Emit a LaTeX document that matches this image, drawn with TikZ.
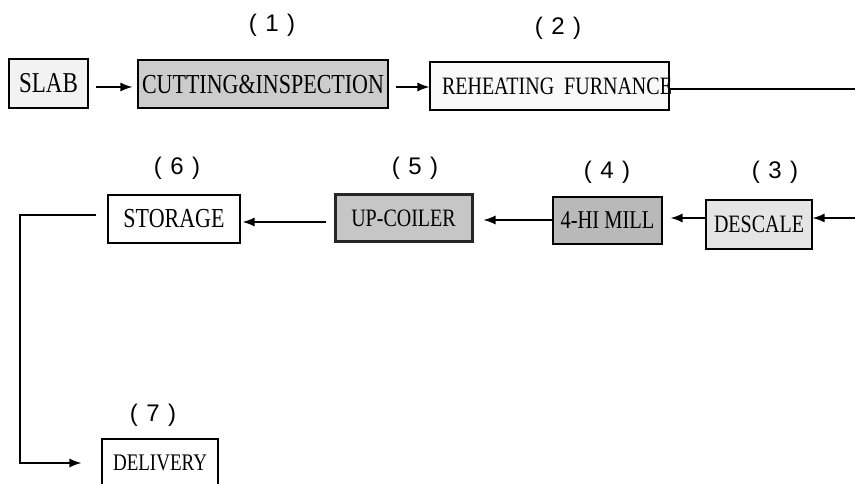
\documentclass[tikz,border=0pt]{standalone}
\usepackage{fontspec}
\usepackage{graphicx}
\setmainfont{Liberation Serif}
\newfontfamily\numfont{Liberation Sans}
\usetikzlibrary{arrows.meta}
\newcommand\tallbox[1]{\scalebox{1}[1.25]{#1}}
\begin{document}
\begin{tikzpicture}[x=1pt,y=-1pt,
  box/.style={draw=black, line width=1.2pt, inner sep=0pt, font=\fontsize{20}{22}\selectfont},
  num/.style={font=\numfont\fontsize{24}{26}\selectfont},
  arr/.style={line width=1.3pt, -{Latex[length=12pt,width=9pt]}}]
  \useasboundingbox (0,0) rectangle (855,484);
  \clip (0,0) rectangle (855,484);
  % top row
  \node[box, fill=gray!10, minimum width=79, minimum height=49, font=\fontsize{23}{24}\selectfont] (slab) at (48.5,83.5) {\tallbox{SLAB}};
  \node[box, fill=gray!40, minimum width=250, minimum height=48, font=\fontsize{22}{24}\selectfont] (cut) at (263,84) {\tallbox{CUTTING\&INSPECTION}};
  \node[box, fill=gray!5, minimum width=239, minimum height=48] (reheat) at (549.5,86)
    {\makebox[239pt][l]{\hspace{12pt}\tallbox{REHEATING\hspace{10pt}FURNANCE}}};
  % second row
  \node[box, fill=gray!20, minimum width=106, minimum height=49] (descale) at (759,224.5) {\tallbox{DESCALE}};
  \node[box, fill=gray!55, minimum width=109, minimum height=47, font=\fontsize{20.5}{22}\selectfont] (mill) at (607.5,220.5) {\tallbox{4-HI MILL}};
  \node[box, fill=gray!45, draw=black!85, line width=3pt, minimum width=137, minimum height=47] (coiler) at (403.5,218.5) {\tallbox{UP-COILER}};
  \node[box, minimum width=132, minimum height=48, font=\fontsize{22}{24}\selectfont] (storage) at (174,219) {\tallbox{STORAGE}};
  % bottom
  \node[box, minimum width=116, minimum height=48, font=\fontsize{19}{21}\selectfont] (delivery) at (160,463) {\tallbox{DELIVERY}};
  % step numbers
  \node[num] (n1) at (272,25) {(\hspace{0.35em}1\hspace{0.35em})};
  \node[num] (n2) at (558,28) {(\hspace{0.35em}2\hspace{0.35em})};
  \node[num] (n3) at (775,172) {(\hspace{0.35em}3\hspace{0.35em})};
  \node[num] (n4) at (607,172) {(\hspace{0.35em}4\hspace{0.35em})};
  \node[num] (n5) at (415,168) {(\hspace{0.35em}5\hspace{0.35em})};
  \node[num] (n6) at (177,168) {(\hspace{0.35em}6\hspace{0.35em})};
  \node[num] (n7) at (153,415) {(\hspace{0.35em}7\hspace{0.35em})};
  % connectors
  \coordinate (rout) at (855,89);
  \coordinate (din) at (855,218);
  \coordinate (c1) at (20,215);
  \draw[arr, shorten <=7pt, shorten >=5pt] ([yshift=-3.5]slab.east) -- ([yshift=-3]cut.west);
  \draw[arr, shorten <=7pt] ([yshift=-3]cut.east) -- ([yshift=-1]reheat.west);
  \draw[line width=1.3pt] ([yshift=-3]reheat.east) -- (rout);
  \draw[arr] (din) -- (din -| descale.east);
  \draw[arr, shorten >=8pt] (din -| descale.west) -- (din -| mill.east);
  \draw[arr, shorten >=10pt] ([yshift=0.5]mill.west) -- ([yshift=-1.5]coiler.east);
  \draw[arr, shorten <=8pt, shorten >=2pt] ([yshift=-3.5]coiler.west) -- ([yshift=-3]storage.east);
  \draw[arr, shorten <=11pt, shorten >=20pt] ([yshift=4]storage.west) -- (c1) |- (delivery.west);
\end{tikzpicture}
\end{document}
